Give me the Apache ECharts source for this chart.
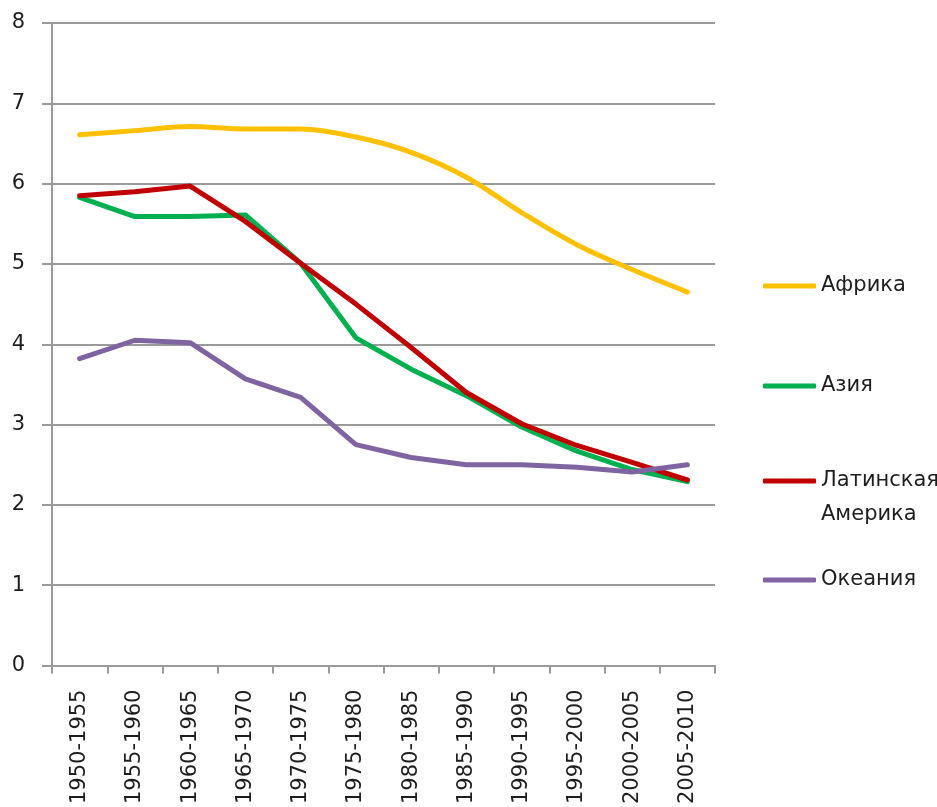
<!DOCTYPE html>
<html>
<head>
<meta charset="utf-8">
<script src="https://cdn.jsdelivr.net/npm/echarts@6/dist/echarts.min.js"></script>
<style>
  html, body { margin: 0; padding: 0; background: #fff; }
  #chart { width: 937px; height: 807px; }
</style>
</head>
<body>
<div id="chart"></div>
<script>
// Total fertility rate by region, five-year periods
const periods = ['1950-1955', '1955-1960', '1960-1965', '1965-1970', '1970-1975', '1975-1980',
                 '1980-1985', '1985-1990', '1990-1995', '1995-2000', '2000-2005', '2005-2010'];
const africa   = [6.61, 6.66, 6.71, 6.68, 6.68, 6.58, 6.39, 6.08, 5.64, 5.24, 4.93, 4.65];
const asia     = [5.83, 5.59, 5.59, 5.61, 5.01, 4.08, 3.69, 3.36, 2.97, 2.67, 2.44, 2.29];
const latAm    = [5.85, 5.90, 5.97, 5.53, 5.01, 4.50, 3.96, 3.40, 3.01, 2.74, 2.53, 2.31];
const oceania  = [3.82, 4.05, 4.02, 3.57, 3.34, 2.75, 2.59, 2.50, 2.50, 2.47, 2.41, 2.50];
const yTicks   = [0, 8, 1]; // min, max, step

const FONT = 'DejaVu Sans';
const TEXT = '#1e1e1e';
const GRID = '#9a9a9a';

const names = ['Африка', 'Азия', 'Латинская Америка', 'Океания'];
const colors = ['#FFC000', '#00B050', '#C00000', '#8064A2'];
const values = [africa, asia, latAm, oceania];

// one legend block per series, stacked down the right side
const legendTops = [274, 374, 430, 568];

const chart = echarts.init(document.getElementById('chart'), null, { renderer: 'canvas' });

const legends = names.map((n, i) => {
  // the two-word name wraps, with its first line level with the swatch
  const multi = i === 2;
  return {
    data: [n],
    left: 763,
    top: legendTops[i],
    orient: 'vertical',
    padding: 0,
    icon: 'roundRect',
    itemWidth: 53,
    itemHeight: 5,
    selectedMode: false,
    formatter: multi ? (s) => '\n' + s.replace(' ', '\n') : '{name}',
    textStyle: {
      fontFamily: FONT,
      fontSize: 21,
      color: TEXT,
      lineHeight: multi ? 34 : 24
    }
  };
});

chart.setOption({
  animation: false,
  backgroundColor: '#fff',
  grid: { left: 52, right: 222, top: 23, bottom: 140, containLabel: false },
  legend: legends,
  xAxis: {
    type: 'category',
    data: periods,
    boundaryGap: true,
    axisLine: { show: true, lineStyle: { color: GRID, width: 2 } },
    axisTick: { show: true, alignWithLabel: false, length: 8, lineStyle: { color: GRID, width: 2 } },
    axisLabel: { rotate: 90, margin: 24, fontFamily: FONT, fontSize: 21, color: TEXT, interval: 0 },
    splitLine: { show: false }
  },
  yAxis: {
    type: 'value',
    min: yTicks[0],
    max: yTicks[1],
    interval: yTicks[2],
    axisLine: { show: true, lineStyle: { color: GRID, width: 2 } },
    axisTick: { show: true, length: 10, lineStyle: { color: GRID, width: 2 } },
    axisLabel: { margin: 27, fontFamily: FONT, fontSize: 21, color: TEXT },
    splitLine: { show: true, lineStyle: { color: GRID, width: 2 } }
  },
  series: names.map((n, i) => ({
    name: n,
    type: 'line',
    data: values[i],
    symbol: 'none',
    smooth: i === 0 ? 0.35 : false,
    color: colors[i],
    lineStyle: { color: colors[i], width: 5, cap: 'round', join: 'round' },
    emphasis: { disabled: true }
  }))
});
</script>
</body>
</html>
